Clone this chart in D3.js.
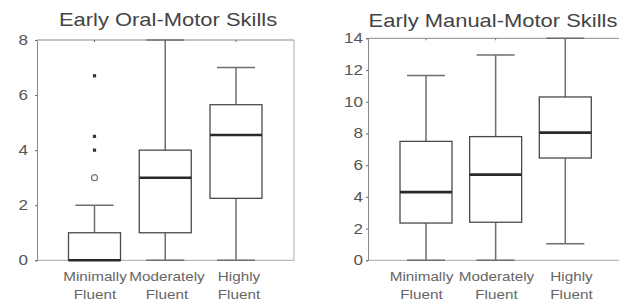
<!DOCTYPE html>
<html><head><meta charset="utf-8">
<script src="https://cdn.jsdelivr.net/npm/d3@7"></script>
<style>body{margin:0;background:#fff}svg{display:block}text{font-family:"Liberation Sans",Arial,sans-serif}</style>
</head><body>
<svg id="c" width="619" height="301"></svg>
<script>
// ---- data ----
const categories = ["Minimally Fluent", "Moderately Fluent", "Highly Fluent"];
const titles = ["Early Oral-Motor Skills", "Early Manual-Motor Skills"];
// box stats: [whiskerLow, q1, median, q3, whiskerHigh]
const oralStats = [
  [0, 0, 0, 1, 2],
  [0, 1, 3, 4, 8],
  [0, 2.25, 4.55, 5.65, 7]
];
const oralOutliersCircle = [[0, 3]];            // [category index, value]
const oralOutliersStar = [[0, 4], [0, 4.5], [0, 6.7]];
const oralTicks = [0, 2, 4, 6, 8];
const manualStats = [
  [0, 2.35, 4.3, 7.5, 11.65],
  [0, 2.4, 5.4, 7.8, 12.95],
  [1.05, 6.45, 8.05, 10.3, 14]
];
const manualTicks = [0, 2, 4, 6, 8, 10, 12, 14];

const svg = d3.select("#c");
const SX = 1.22; // horizontal stretch of the original image

function stretchedText(g, x, y, str, size, anchor, fill) {
  return g.append("text")
    .attr("transform", `translate(${x},${y}) scale(${SX},1)`)
    .attr("text-anchor", anchor)
    .attr("font-size", size)
    .attr("fill", fill)
    .text(str);
}

function panel(opt) {
  const g = svg.append("g");
  const y = d3.scaleLinear().domain(opt.domain).range([opt.y0, opt.y1]);
  const x = d3.scalePoint().domain(categories).range(opt.xr);
  const xl = d3.scalePoint().domain(categories).range(opt.labelR);
  const frame = "#8a8a8a";
  // frame lines
  g.append("line").attr("x1", opt.left).attr("x2", opt.right).attr("y1", opt.y1).attr("y2", opt.y1).attr("stroke", frame);
  g.append("line").attr("x1", opt.left).attr("x2", opt.right).attr("y1", opt.y0).attr("y2", opt.y0).attr("stroke", "#a8a8a8");
  if (opt.rightLine) g.append("line").attr("x1", opt.right).attr("x2", opt.right).attr("y1", opt.y1).attr("y2", opt.y0).attr("stroke", "#aaa");
  // left axis
  const ax = g.append("g").attr("transform", `translate(${opt.left},0)`)
    .call(d3.axisLeft(y).tickValues(opt.ticks).tickSize(2).tickFormat(""));
  ax.select(".domain").attr("stroke", frame);
  ax.selectAll(".tick line").attr("stroke", "#666");
  opt.ticks.forEach(t => stretchedText(g, opt.left - opt.labelGap, y(t) + 5, String(t), 14, "end", "#555"));
  // top tick marks
  categories.forEach(c => g.append("line").attr("x1", x(c)).attr("x2", x(c)).attr("y1", opt.y1).attr("y2", opt.y1 + 2).attr("stroke", "#666"));
  // title
  stretchedText(g, opt.titleX, opt.titleY, opt.title, 18, "middle", "#444");
  // category labels
  categories.forEach(c => {
    const parts = c.split(" ");
    stretchedText(g, xl(c), 280.5, parts[0], 12.5, "middle", "#666");
    stretchedText(g, xl(c), 299, parts[1], 12.5, "middle", "#666");
  });
  // boxes
  const bw = 52, cw = 38;
  opt.stats.forEach((s, i) => {
    const cx = x(categories[i]);
    const [lo, q1, med, q3, hi] = s;
    const wc = "#6e6e6e";
    g.append("line").attr("x1", cx).attr("x2", cx).attr("y1", y(q3)).attr("y2", y(hi)).attr("stroke", wc).attr("stroke-width", 1.5);
    g.append("line").attr("x1", cx).attr("x2", cx).attr("y1", y(q1)).attr("y2", y(lo)).attr("stroke", wc).attr("stroke-width", 1.5);
    g.append("line").attr("x1", cx - cw / 2).attr("x2", cx + cw / 2).attr("y1", y(hi)).attr("y2", y(hi)).attr("stroke", wc).attr("stroke-width", 1.5);
    g.append("line").attr("x1", cx - cw / 2).attr("x2", cx + cw / 2).attr("y1", y(lo)).attr("y2", y(lo)).attr("stroke", wc).attr("stroke-width", 1.5);
    g.append("rect").attr("x", cx - bw / 2).attr("y", y(q3)).attr("width", bw).attr("height", y(q1) - y(q3))
      .attr("fill", "none").attr("stroke", "#4a4a4a").attr("stroke-width", 1.3);
    g.append("line").attr("x1", cx - bw / 2).attr("x2", cx + bw / 2).attr("y1", y(med)).attr("y2", y(med)).attr("stroke", "#2a2a2a").attr("stroke-width", 2.6);
  });
  (opt.circles || []).forEach(([i, v]) => g.append("circle").attr("cx", x(categories[i])).attr("cy", y(v)).attr("r", 3)
    .attr("fill", "none").attr("stroke", "#777").attr("stroke-width", 1.2));
  (opt.stars || []).forEach(([i, v]) => g.append("rect").attr("x", x(categories[i]) - 1.6).attr("y", y(v) - 1.6).attr("width", 3.2).attr("height", 3.2)
    .attr("fill", "#333"));
}

panel({domain: [0, 8], y0: 260.3, y1: 40, xr: [94.5, 236], labelR: [95, 239], left: 37, right: 294, rightLine: true,
  ticks: oralTicks, labelGap: 9, title: titles[0], titleX: 168, titleY: 25.5, stats: oralStats,
  circles: oralOutliersCircle, stars: oralOutliersStar});
panel({domain: [0, 14], y0: 260.3, y1: 38.3, xr: [426, 565.3], labelR: [421.5, 571.5], left: 368, right: 619, rightLine: false,
  ticks: manualTicks, labelGap: 5, title: titles[1], titleX: 493, titleY: 26.5, stats: manualStats});
</script>
</body></html>
